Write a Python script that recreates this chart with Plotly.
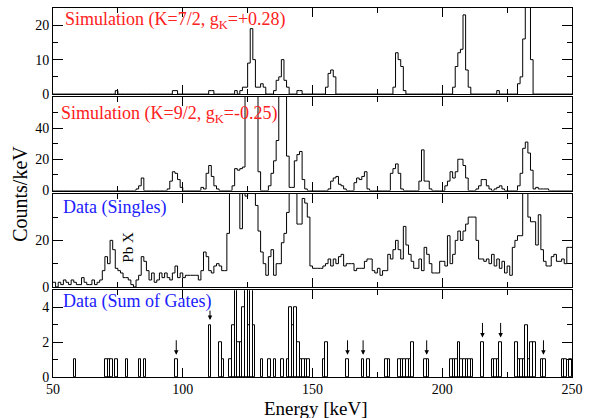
import plotly.graph_objects as go

# ---------------- data ----------------
E_LO, E_HI = 50, 250          # energy axis (keV), 1 keV bins, left edges
x_ticks = [50, 100, 150, 200, 250]

# Simulation (K=7/2, gK=+0.28): non-empty bins (left edge, keV) and counts/keV
sim72_E = [74, 96, 97, 110, 111, 120, 122, 123, 124, 125, 126, 127, 128, 129, 130, 131,
           135, 136, 137, 138, 139, 140, 144, 145, 155, 156, 157, 158, 181, 182, 183, 184, 185,
           204, 205, 206, 207, 208, 209, 210, 221, 229, 230, 231, 232, 233, 234]
sim72_counts = [1, 1, 1, 1, 1, 1, 1, 2, 2, 9, 19, 10, 2, 2, 3, 2,
                1, 4, 5, 10, 4, 2, 1, 1, 2, 6, 7, 5, 2, 12, 10, 8, 1,
                2, 8, 12, 13, 23, 7, 2, 1, 3, 5, 16, 30, 34, 10]

# Simulation (K=9/2, gK=-0.25)
sim92_E = [82, 83, 84, 94, 95, 96, 97, 98, 99, 107, 108, 109, 110, 111, 112, 113,
           119, 120, 121, 122, 123, 124, 125, 126, 127, 128, 129,
           133, 134, 135, 136, 137, 138, 139, 140, 141, 142, 143, 144, 145, 146, 147,
           156, 157, 158, 159, 160, 161, 162, 166, 167, 168, 169, 170, 171,
           180, 181, 182, 183, 184, 191, 192, 193, 194, 195,
           201, 202, 203, 204, 205, 206, 207, 208, 209,
           213, 214, 215, 216, 217, 218, 220, 221, 222, 223,
           229, 230, 231, 232, 233, 234, 235, 236, 237, 238, 239, 240]
sim92_counts = [1, 3, 8, 1, 6, 12, 11, 7, 2, 2, 1, 11, 16, 9, 3, 1,
                3, 14, 13, 14, 15, 100, 100, 100, 100, 100, 12,
                3, 11, 19, 32, 100, 100, 100, 22, 2, 2, 19, 23, 25, 7, 1,
                1, 6, 8, 9, 4, 3, 1, 5, 8, 7, 9, 12, 1,
                11, 14, 17, 11, 1, 6, 26, 6, 6, 1,
                3, 6, 12, 8, 12, 20, 20, 16, 8,
                1, 3, 7, 7, 3, 1, 1, 2, 3, 1,
                3, 11, 27, 31, 24, 13, 1, 2, 1, 1, 1, 1]

# Data (Singles): every bin from 50 to 249 keV
singles_counts = [
    2, 0, 2, 1, 3, 2, 1, 3, 2, 1,        # 50-59
    1, 4, 2, 1, 1, 3, 1, 2, 3, 7,        # 60-69
    13, 10, 20, 16, 8, 7, 6, 4, 4, 3,    # 70-79
    1, 0, 3, 5, 13, 11, 7, 3, 6, 2,      # 80-89
    3, 6, 4, 6, 4, 3, 6, 9, 4, 6,        # 90-99
    4, 5, 5, 5, 5, 5, 3, 7, 15, 13,      # 100-109
    7, 6, 9, 10, 9, 7, 7, 23, 55, 55,    # 110-119
    55, 55, 25, 50, 39, 55, 60, 55, 35, 24,  # 120-129
    15, 10, 5, 13, 16, 5, 10, 10, 19, 23,    # 130-139
    32, 50, 55, 50, 27, 27, 38, 36, 30, 9,   # 140-149
    8, 8, 8, 8, 9, 10, 12, 9, 12, 10,    # 150-159
    13, 14, 9, 10, 10, 10, 7, 8, 8, 8,   # 160-169
    11, 12, 12, 7, 6, 8, 5, 7, 7, 14,    # 170-179
    12, 16, 20, 16, 12, 26, 18, 14, 11, 8,   # 180-189
    8, 12, 7, 17, 14, 10, 6, 6, 6, 11,   # 190-199
    11, 9, 22, 10, 14, 20, 24, 20, 24, 27,   # 200-209
    30, 30, 30, 20, 12, 12, 11, 12, 10, 14,  # 210-219
    9, 12, 8, 11, 6, 9, 5, 17, 20, 22,   # 220-229
    22, 50, 50, 30, 28, 28, 18, 31, 16, 11,  # 230-239
    9, 9, 13, 14, 11, 11, 12, 10, 17, 17,    # 240-249
]

# Data (Sum of Gates)
gates_E = [58, 70, 71, 72, 74, 78, 83, 85, 97, 110,
           114, 115, 118, 119, 120, 121, 122, 123, 124, 125,
           126, 127, 130, 133, 135, 138, 140, 141, 142, 143,
           144, 145, 146, 147, 148, 154, 155, 163, 169, 171,
           178, 179, 183, 184, 185, 186, 187, 188, 193, 194,
           203, 204, 205, 206, 207, 208, 209, 210, 211, 215,
           219, 220, 221, 222, 228, 229, 230, 231, 232, 233,
           234, 235, 238, 239, 246, 247, 249]
gates_counts = [1, 1, 1, 1, 1, 1, 1, 1, 1, 3,
                2, 1, 1, 3, 6, 2, 2, 4, 6, 3,
                6, 3, 1, 1, 1, 1, 1, 4, 3, 4,
                2, 1, 1, 1, 1, 1, 2, 1, 1, 1,
                1, 1, 1, 1, 1, 1, 1, 2, 1, 1,
                1, 1, 1, 2, 1, 1, 1, 1, 1, 2,
                1, 1, 1, 2, 2, 1, 1, 1, 3, 1,
                2, 2, 1, 1, 1, 1, 1]

# transitions marked with arrows in the gated spectrum (keV)
arrow_E = [97.5, 110.5, 163.5, 169.5, 194, 215.5, 222.5, 239]

# ---------------- helpers ----------------
edges = list(range(E_LO, E_HI + 1))


def full(E, c):
    arr = [0] * (E_HI - E_LO)
    for e, v in zip(E, c):
        arr[e - E_LO] = v
    return arr


def step_y(vals):
    return list(vals) + [vals[-1]]


# layout geometry (pixels)
W, H = 590, 418
ML, MR, MT, MB = 53, 13, 7, 41
PW, PH = W - ML - MR, H - MT - MB


def fx(px):
    return (px - ML) / PW


def fy(py):
    return (H - MB - py) / PH


dom = {
    1: [fy(93.3), 1.0],
    2: [fy(190), fy(96)],
    3: [fy(286.7), fy(193.3)],
    4: [0.0, fy(290)],
}

FONT = "Liberation Serif"
LINE = dict(color="black", width=1, shape="hv")

fig = go.Figure()
fig.add_trace(go.Scatter(x=edges, y=step_y(full(sim72_E, sim72_counts)), mode="lines",
                         line=LINE, xaxis="x", yaxis="y", showlegend=False, hoverinfo="skip"))
fig.add_trace(go.Scatter(x=edges, y=step_y(full(sim92_E, sim92_counts)), mode="lines",
                         line=LINE, xaxis="x2", yaxis="y2", showlegend=False, hoverinfo="skip"))
fig.add_trace(go.Scatter(x=edges, y=step_y(singles_counts), mode="lines",
                         line=LINE, xaxis="x3", yaxis="y3", showlegend=False, hoverinfo="skip"))
fig.add_trace(go.Bar(x=gates_E, y=gates_counts, offset=0, width=1,
                     marker=dict(color="rgba(0,0,0,0)", line=dict(color="black", width=1)),
                     xaxis="x4", yaxis="y4", showlegend=False, hoverinfo="skip"))


def xaxis(i):
    return dict(
        domain=[0, 1], anchor="y" if i == 1 else f"y{i}",
        range=[E_LO, E_HI], tickmode="array", tickvals=x_ticks,
        ticktext=[str(v) for v in x_ticks],
        ticks="inside", ticklen=9, tickwidth=1, tickcolor="black",
        minor=dict(ticks="inside", ticklen=5, tickwidth=1, tickcolor="black",
                   tickmode="array", tickvals=[75, 125, 175, 225]),
        showline=True, linecolor="black", linewidth=1, mirror="allticks",
        showgrid=False, zeroline=False, showticklabels=(i == 4),
        ticklabelstandoff=-1,
        tickfont=dict(family=FONT, size=14, color="black"),
        matches=None if i == 1 else "x",
    )


y_specs = {
    1: dict(range=[0, 25], major=[0, 10, 20], minor=[5, 15]),
    2: dict(range=[0, 60], major=[0, 20, 40], minor=[10, 30, 50]),
    3: dict(range=[0, 40], major=[0, 20], minor=[10, 30]),
    4: dict(range=[0, 5], major=[0, 2, 4], minor=[1, 3]),
}


def yaxis(i):
    s = y_specs[i]
    return dict(
        domain=dom[i], anchor="x" if i == 1 else f"x{i}",
        range=s["range"], tickmode="array", tickvals=s["major"],
        ticks="inside", ticklen=10, tickwidth=1, tickcolor="black",
        minor=dict(ticks="inside", ticklen=5, tickwidth=1, tickcolor="black",
                   tickmode="array", tickvals=s["minor"]),
        showline=True, linecolor="black", linewidth=1, mirror="allticks",
        showgrid=False, zeroline=False,
        tickfont=dict(family=FONT, size=14, color="black"),
    )


layout = dict(
    width=W, height=H, margin=dict(l=ML, r=MR, t=MT, b=MB),
    paper_bgcolor="white", plot_bgcolor="white", bargap=0,
    font=dict(family=FONT, color="black"),
)
for i in range(1, 5):
    layout["xaxis" if i == 1 else f"xaxis{i}"] = xaxis(i)
    layout["yaxis" if i == 1 else f"yaxis{i}"] = yaxis(i)
fig.update_layout(**layout)

ann = []
RED, BLUE = "#ff2020", "#2020ff"


def label(text, px, py, color, size=18):
    return dict(text=text, x=fx(px), y=fy(py), xref="paper", yref="paper",
                xanchor="left", yanchor="middle", showarrow=False,
                font=dict(family=FONT, size=size, color=color))


ann.append(label("Simulation (K=7/2, g<sub>K</sub>=+0.28)", 63, 20, RED))
ann.append(label("Simulation (K=9/2, g<sub>K</sub>=-0.25)", 59, 113.5, RED))
ann.append(label("Data (Singles)", 61, 207, BLUE))
ann.append(label("Data (Sum of Gates)", 61, 301, BLUE))
ann.append(dict(text="Pb X", x=fx(129), y=fy(247), xref="paper", yref="paper",
                xanchor="center", yanchor="middle", textangle=-90, showarrow=False,
                font=dict(family=FONT, size=15, color="black")))
ann.append(dict(text="Counts/keV", x=fx(20), y=fy(193), xref="paper", yref="paper",
                xanchor="center", yanchor="middle", textangle=-90, showarrow=False,
                font=dict(family=FONT, size=20, color="black")))
ann.append(dict(text="Energy [keV]", x=fx(319), y=fy(409), xref="paper", yref="paper",
                xanchor="center", yanchor="middle", showarrow=False,
                font=dict(family=FONT, size=19, color="black")))

gates_full = full(gates_E, gates_counts)
for e in arrow_E:
    h = gates_full[int(e) - E_LO]
    if h == 0:
        h = gates_full[int(e) - 1 - E_LO]
    length = 11 if h >= 3 else 16
    ann.append(dict(x=e, y=h + 0.28, xref="x4", yref="y4", text="", showarrow=True,
                    ax=0, ay=-length, arrowhead=2, arrowsize=0.9, arrowwidth=1,
                    arrowcolor="black", standoff=0))

fig.update_layout(annotations=ann)
fig.write_html("out.html", config={"displayModeBar": False},
               post_script="document.body.style.margin='0px';")
